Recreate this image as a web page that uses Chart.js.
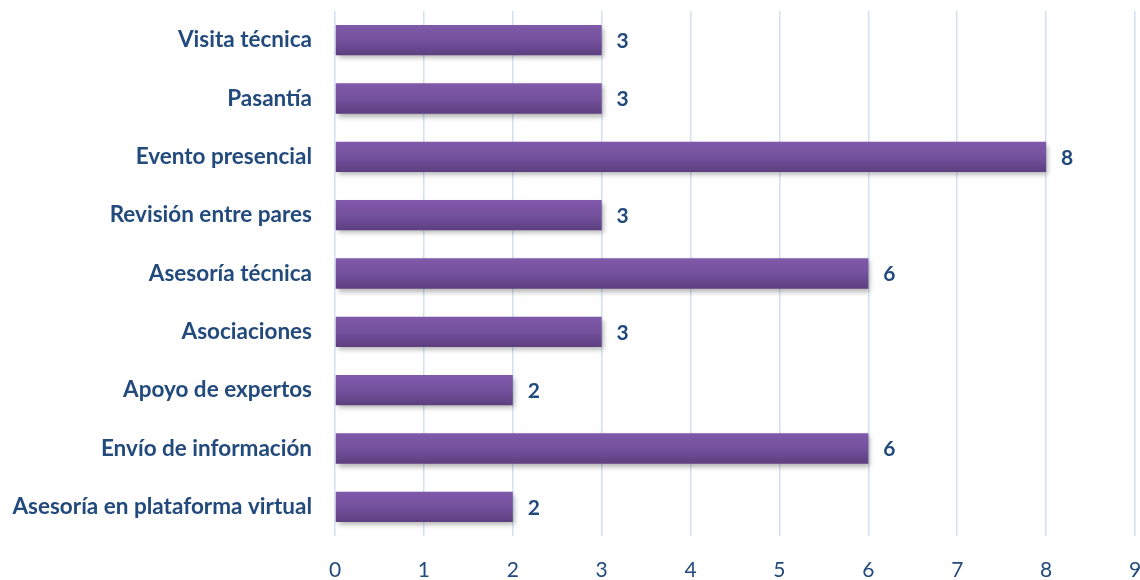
<!DOCTYPE html>
<html>
<head>
<meta charset="utf-8">
<script src="https://cdn.jsdelivr.net/npm/chart.js@4"></script>
<style>
  html, body { margin: 0; padding: 0; background: #fff; }
  #wrap { width: 1140px; height: 580px; }
</style>
</head>
<body>
<div id="wrap"><canvas id="barChart" width="1140" height="580"></canvas></div>
<script>
var categories = ['Visita técnica', 'Pasantía', 'Evento presencial', 'Revisión entre pares',
    'Asesoría técnica', 'Asociaciones', 'Apoyo de expertos', 'Envío de información',
    'Asesoría en plataforma virtual'];
var values = [3, 3, 8, 3, 6, 3, 2, 6, 2];
var xTicks = [0, 1, 2, 3, 4, 5, 6, 7, 8, 9];

var textColor = '#234a7c';
var barPct = 0.52;

// vertical gradient per bar, computed from the category scale
function barGradient(context) {
    var chart = context.chart;
    var area = chart.chartArea;
    var yScale = chart.scales.y;
    if (!area || !yScale) return '#73509c';
    var c = yScale.getPixelForValue(context.dataIndex);
    var h = (area.bottom - area.top) / categories.length * barPct;
    var g = chart.ctx.createLinearGradient(0, c - h / 2, 0, c + h / 2);
    g.addColorStop(0, '#8059aa');
    g.addColorStop(0.5, '#74519d');
    g.addColorStop(1, '#5d3f80');
    return g;
}

var barStyle = {
    id: 'barStyle',
    beforeDatasetsDraw: function(chart) {
        var ctx = chart.ctx;
        ctx.save();
        ctx.shadowColor = 'rgba(0,0,0,0.3)';
        ctx.shadowBlur = 5;
        ctx.shadowOffsetX = 2;
        ctx.shadowOffsetY = 3;
    },
    afterDatasetsDraw: function(chart) {
        var ctx = chart.ctx;
        ctx.restore();
        ctx.save();
        ctx.font = 'bold 21px Lato';
        ctx.fillStyle = textColor;
        ctx.textAlign = 'center';
        ctx.textBaseline = 'middle';
        chart.getDatasetMeta(0).data.forEach(function(bar, i) {
            ctx.fillText(values[i], bar.x + 21, bar.y + 1);
        });
        ctx.restore();
    }
};

var ctx = document.getElementById('barChart').getContext('2d');
new Chart(ctx, {
    type: 'bar',
    data: {
        labels: categories,
        datasets: [{
            data: values,
            backgroundColor: barGradient,
            borderWidth: 0,
            categoryPercentage: 1,
            barPercentage: barPct
        }]
    },
    options: {
        indexAxis: 'y',
        responsive: false,
        animation: false,
        layout: { padding: { top: 11, right: 5, bottom: 0, left: 0 } },
        plugins: {
            legend: { display: false },
            tooltip: { enabled: false }
        },
        scales: {
            x: {
                min: 0,
                max: 9,
                afterBuildTicks: function(axis) {
                    axis.ticks = xTicks.map(function(v) { return { value: v }; });
                },
                grid: { color: '#d3e0f2', lineWidth: 1.5, drawTicks: false },
                border: { display: false },
                ticks: {
                    color: textColor,
                    padding: 22,
                    font: { family: 'Lato', size: 21 }
                },
                afterFit: function(axis) {
                    axis.height = 44;
                    axis.paddingLeft = 0;
                    axis.paddingRight = 0;
                }
            },
            y: {
                grid: { display: false, drawTicks: false },
                border: { display: false },
                ticks: {
                    color: textColor,
                    padding: 23,
                    font: { family: 'Lato', size: 22.5, weight: 'bold' }
                },
                afterFit: function(axis) {
                    axis.width = 335;
                    axis.paddingTop = 0;
                    axis.paddingBottom = 0;
                }
            }
        }
    },
    plugins: [barStyle]
});
</script>
</body>
</html>
